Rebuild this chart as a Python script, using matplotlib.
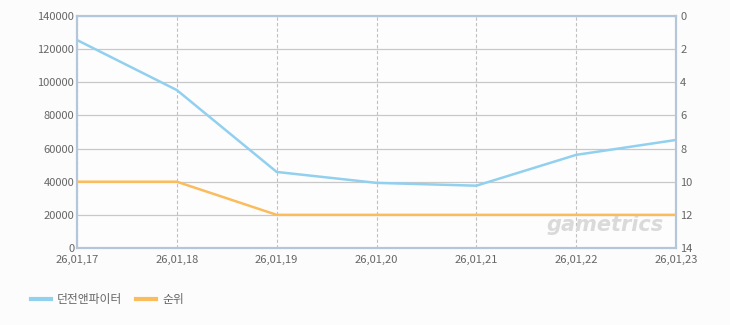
import matplotlib
matplotlib.use("Agg")
import matplotlib.pyplot as plt
from matplotlib.lines import Line2D

plt.rcParams['font.family'] = ['Noto Sans CJK KR', 'DejaVu Sans']

dates = ["26,01,17", "26,01,18", "26,01,19", "26,01,20", "26,01,21", "26,01,22", "26,01,23"]
users = [125500, 95300, 45900, 39300, 37600, 56200, 65200]
rank = [10, 10, 12, 12, 12, 12, 12]
series_names = ["던전앤파이터", "순위"]

blue = "#92d0f0"
orange = "#fbbc5c"
spine_c = "#b4c6da"
txt_c = "#666666"

fig = plt.figure(figsize=(7.3, 3.25), dpi=100, facecolor="#fcfcfc")
ax = fig.add_axes([77/730, 1-248/325, (676-77)/730, (248-16)/325])
ax.set_facecolor("#fdfdfd")
x = list(range(len(dates)))

ax.set_xlim(0, len(dates)-1)
ax.set_ylim(0, 140000)
ax.set_yticks(range(0, 140001, 20000))
ax.set_xticks(x)
ax.set_xticklabels(dates)
ax.grid(axis='y', color="#c8c8c8", lw=0.9, ls='-')
ax.grid(axis='x', color="#c0c0c0", lw=0.8, ls=(0, (3, 2)))
ax.set_axisbelow(True)
for s in ax.spines.values():
    s.set_color(spine_c)
    s.set_linewidth(1.5)
ax.tick_params(axis='y', length=0, labelsize=8, colors=txt_c, pad=2)
ax.tick_params(axis='x', length=0, labelsize=8, colors=txt_c, pad=5)
ax.plot(x, users, color=blue, lw=1.8, zorder=3)

ax2 = ax.twinx()
ax2.set_ylim(14, 0)
ax2.set_yticks(range(0, 15, 2))
ax2.plot(x, rank, color=orange, lw=1.8, zorder=3)
for s in ax2.spines.values():
    s.set_color(spine_c)
    s.set_linewidth(1.5)
ax2.tick_params(length=0, labelsize=8, colors=txt_c, pad=3)

ax.text(0.98, 0.055, "gametrics", transform=ax.transAxes, ha='right', va='bottom',
        fontsize=15, fontstyle='italic', fontweight='bold', color="#dadada",
        family='DejaVu Sans', zorder=1)

handles = [Line2D([], [], color=blue, lw=3), Line2D([], [], color=orange, lw=3)]
fig.legend(handles, series_names, loc='lower left', bbox_to_anchor=(20/730, 8/325),
           ncol=2, frameon=False, fontsize=8.5, handlelength=1.7, handletextpad=0.5,
           columnspacing=1.2, labelcolor=txt_c)

fig.savefig("out.png", dpi=100, facecolor=fig.get_facecolor())
